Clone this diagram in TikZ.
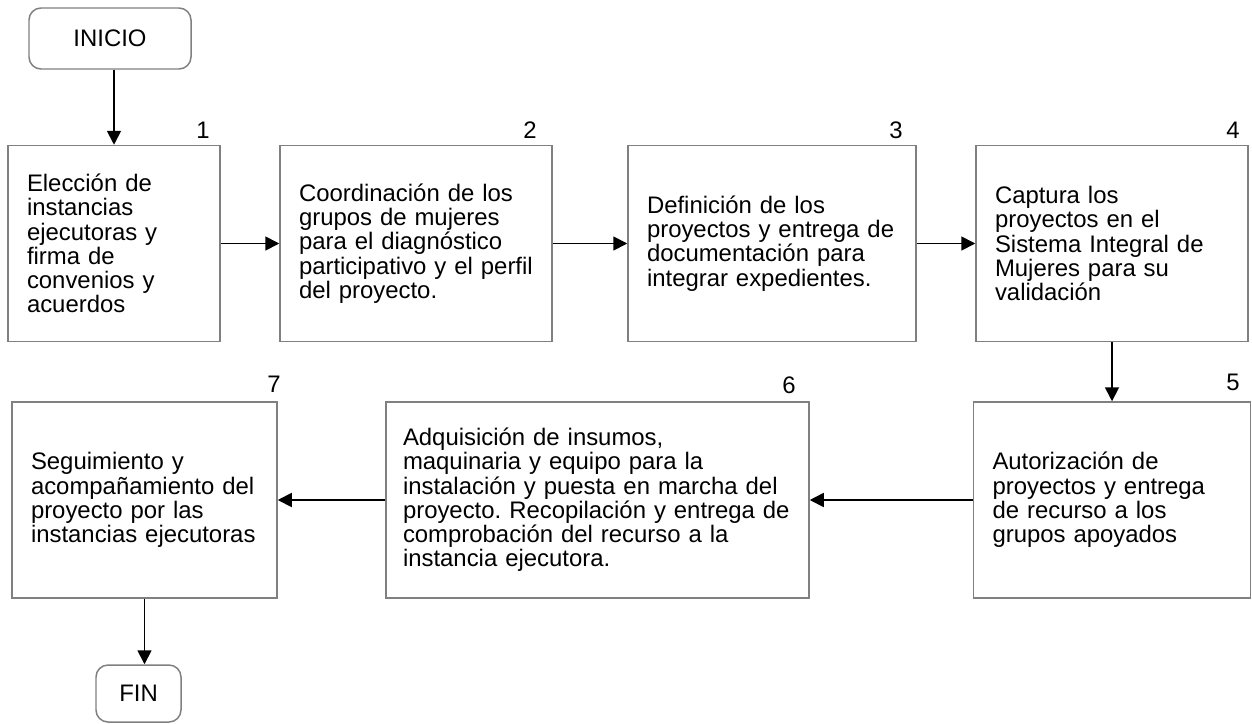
\documentclass[tikz,border=0pt]{standalone}
\usepackage{fontspec}
\setmainfont{Liberation Sans}
\usetikzlibrary{arrows.meta}
\definecolor{boxgray}{RGB}{128,128,128}
\frenchspacing

\begin{document}
\begin{tikzpicture}
\tikzstyle{every node}+=[inner sep=0pt, font=\fontsize{13.6}{13.8}\selectfont]
\tikzstyle{stage}=[draw=boxgray, line width=0.85pt, align=left, inner xsep=0.38cm, minimum height=3.92cm]
\tikzstyle{terminal}=[draw=boxgray, line width=0.85pt, rounded corners=0.24cm]
\tikzstyle{flow}=[black, line width=1pt, -{Triangle[length=0.28cm,width=0.28cm]}]
\tikzstyle{num}=[anchor=base east]
\useasboundingbox (0,0) rectangle (25.04,-14.46);
\node [terminal, minimum width=3.24cm, minimum height=1.22cm] (inicio) at (2.2,-0.77) {INICIO};
\node [stage, text width=3.48cm] (b1) at (2.28,-4.87) {Elección de\\instancias\\ejecutoras y\\firma de\\convenios y\\acuerdos};
\node [stage, text width=4.68cm] (b2) at (8.32,-4.87) {Coordinación de los\\grupos de mujeres\\para el diagnóstico\\participativo y el perfil\\del proyecto.};
\node [stage, text width=5cm] (b3) at (15.44,-4.87) {Definición de los\\proyectos y entrega de\\documentación para\\integrar expedientes.};
\node [stage, text width=4.68cm] (b4) at (22.24,-4.87) {Captura los\\proyectos en el\\Sistema Integral de\\Mujeres para su\\validación};
\node [stage, text width=4.78cm] (b5) at (22.24,-10) {Autorización de\\proyectos y entrega\\de recurso a los\\grupos apoyados};
\node [stage, inner xsep=0.34cm, text width=7.78cm] (b6) at (11.95,-10) {Adquisición de insumos,\\maquinaria y equipo para la\\instalación y puesta en marcha del\\proyecto. Recopilación y entrega de\\comprobación del recurso a la\\instancia ejecutora.};
\node [stage, text width=4.54cm] (b7) at (2.89,-10) {Seguimiento y\\acompañamiento del\\proyecto por las\\instancias ejecutoras};
\node [terminal, minimum width=1.7cm, minimum height=1.14cm] (fin) at (2.77,-13.87) {FIN};
\node [num] (n1) at (4.2,-2.76) {1};
\node [num] (n2) at (10.74,-2.76) {2};
\node [num] (n3) at (18.06,-2.76) {3};
\node [num] (n4) at (24.8,-2.76) {4};
\node [num] (n5) at (24.8,-7.8) {5};
\node [num] (n6) at (15.92,-7.86) {6};
\node [num] (n7) at (5.62,-7.84) {7};
\draw [flow] (b1.north |- inicio.south) -- (b1.north);
\draw [flow] (b1) -- (b2);
\draw [flow] (b2) -- (b3);
\draw [flow] (b3) -- (b4);
\draw [flow] (b4) -- (b5);
\draw [flow] (b5) -- (b6);
\draw [flow] (b6) -- (b7);
\draw [flow] (b7.south) -- (b7.south |- fin.north);
\end{tikzpicture}
\end{document}
